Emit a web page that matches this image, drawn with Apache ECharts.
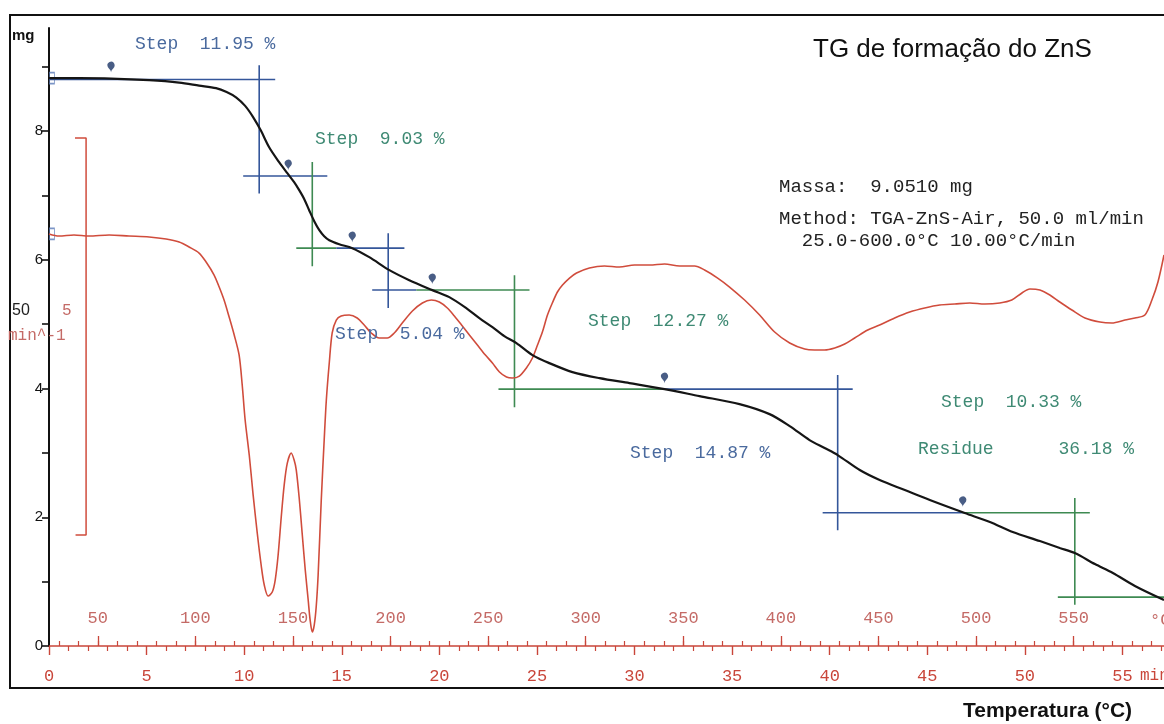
<!DOCTYPE html>
<html>
<head>
<meta charset="utf-8">
<script src="https://cdn.jsdelivr.net/npm/echarts@6/dist/echarts.min.js"></script>
<style>html,body{margin:0;padding:0;background:#fff}#c{width:1164px;height:724px}</style>
</head>
<body>
<div id="c"></div>
<script>
// ---- TG curve (time in min, mass in mg)
const tgTime = [0,1.54,3.18,5.13,6.67,7.69,8.56,9.1,9.6,10.05,10.45,10.85,11.28,11.79,12.21,12.56,12.82,13.08,13.33,13.59,13.85,14.10,14.36,14.87,15.54,16.41,17.44,18.46,19.64,20.51,21.38,22.05,22.72,23.33,23.95,24.77,25.64,26.82,28.21,29.74,31.54,33.33,35.38,36.92,37.95,38.97,39.74,40.41,41.54,42.56,43.85,45.13,46.92,48.21,49.38,50.77,51.79,52.56,53.59,54.51,55.64,57.13];
const tgMass = [8.82,8.82,8.815,8.79,8.752,8.705,8.665,8.605,8.520,8.390,8.220,8.010,7.748,7.516,7.345,7.205,7.081,6.941,6.770,6.599,6.460,6.366,6.304,6.242,6.180,6.040,5.839,5.683,5.528,5.419,5.248,5.093,4.953,4.814,4.705,4.519,4.394,4.255,4.161,4.084,3.991,3.882,3.758,3.602,3.416,3.199,3.075,2.966,2.733,2.578,2.422,2.267,2.065,1.925,1.770,1.630,1.522,1.444,1.273,1.134,0.932,0.714];

// ---- DTG curve (time in min, rate in %/min, 0 = baseline)
const dtgTime = [0,0.51,1.28,2.05,3.08,4.10,5.13,6.00,6.67,7.18,7.69,8.05,8.46,8.72,8.97,9.23,9.49,9.74,9.90,10.05,10.26,10.46,10.67,10.87,11.03,11.23,11.44,11.59,11.74,11.90,12.05,12.21,12.41,12.56,12.67,12.82,12.97,13.13,13.28,13.38,13.49,13.59,13.69,13.79,13.95,14.10,14.21,14.36,14.51,14.72,14.97,15.38,15.79,16.15,16.51,16.92,17.33,17.69,18.10,18.62,19.13,19.59,20.00,20.41,20.77,21.18,21.54,21.95,22.36,22.72,23.08,23.44,23.74,24.10,24.46,24.77,25.03,25.28,25.54,25.79,26.05,26.31,26.67,27.03,27.69,28.46,29.23,30.00,30.77,31.54,32.31,33.08,33.59,34.26,34.87,35.64,36.41,37.18,37.95,38.72,39.23,39.74,40.26,40.77,41.28,41.95,42.56,43.33,44.10,44.87,45.64,46.41,47.18,47.95,48.72,49.33,49.85,50.26,50.77,51.28,51.79,52.41,53.08,53.85,54.46,55.13,55.64,56.15,56.51,56.82,57.13];
const dtgRate = [0.013,-0.013,0,-0.013,0,-0.013,-0.025,-0.050,-0.088,-0.151,-0.227,-0.340,-0.504,-0.655,-0.819,-1.033,-1.259,-1.511,-1.889,-2.330,-2.771,-3.275,-3.753,-4.156,-4.408,-4.547,-4.496,-4.345,-4.030,-3.552,-3.149,-2.872,-2.746,-2.834,-2.960,-3.312,-3.753,-4.219,-4.597,-4.849,-5.000,-4.912,-4.685,-4.282,-3.338,-2.582,-2.078,-1.612,-1.234,-1.071,-1.020,-1.008,-1.045,-1.134,-1.234,-1.297,-1.297,-1.234,-1.108,-0.957,-0.856,-0.819,-0.844,-0.919,-1.020,-1.146,-1.259,-1.385,-1.511,-1.612,-1.725,-1.788,-1.801,-1.776,-1.675,-1.549,-1.385,-1.222,-1.008,-0.856,-0.718,-0.630,-0.542,-0.479,-0.416,-0.390,-0.403,-0.378,-0.378,-0.365,-0.390,-0.390,-0.441,-0.542,-0.655,-0.819,-1.008,-1.222,-1.360,-1.436,-1.448,-1.448,-1.423,-1.373,-1.297,-1.196,-1.134,-1.045,-0.970,-0.919,-0.882,-0.869,-0.856,-0.869,-0.856,-0.819,-0.730,-0.680,-0.693,-0.756,-0.844,-0.945,-1.045,-1.096,-1.108,-1.071,-1.045,-1.008,-0.819,-0.592,-0.252];

// ---- Step construction lines [t1, mg1, t2, mg2, kind] (B = onset, G = endset)
const stepSegments = [
  [0,8.80,11.59,8.80,'B'],[10.77,9.02,10.77,7.03,'B'],[9.95,7.30,14.26,7.30,'B'],
  [13.49,7.52,13.49,5.90,'G'],[12.67,6.18,14.72,6.18,'G'],[14.72,6.18,18.21,6.18,'B'],
  [17.38,6.41,17.38,5.25,'B'],[16.56,5.53,18.82,5.53,'B'],[18.82,5.53,24.62,5.53,'G'],
  [23.85,5.76,23.85,3.71,'G'],[23.03,3.99,31.54,3.99,'G'],[31.54,3.99,41.18,3.99,'B'],
  [40.41,4.21,40.41,1.80,'B'],[39.64,2.07,46.82,2.07,'B'],[46.82,2.07,53.33,2.07,'G'],
  [52.56,2.30,52.56,0.64,'G'],[51.69,0.76,57.13,0.76,'G']
];
const pinTime = [3.18,12.26,15.54,19.64,31.54,46.82];
const pinMass = [8.82,7.30,6.18,5.53,3.99,2.07];

// DTG scale bar (5 %/min)
const scaleBar = [[1.33,1.222],[1.90,1.222],[1.90,-3.778],[1.36,-3.778]];

// ---- Axis ticks / labels
const timeLabels = [0,5,10,15,20,25,30,35,40,45,50,55];
const tempLabels = [50,100,150,200,250,300,350,400,450,500,550];
const tempMinor = []; for (let v = 30; v <= 590; v += 10) tempMinor.push(v);
const massTicks = [0,1,2,3,4,5,6,7,8,9];
const massLabels = [0,2,4,6,8];

// ---- Annotation texts
const stepTexts = ['Step  11.95 %','Step  9.03 %','Step  5.04 %','Step  12.27 %','Step  14.87 %','Step  10.33 %','Residue      36.18 %'];
const infoTexts = ['Massa:  9.0510 mg','Method: TGA-ZnS-Air, 50.0 ml/min','  25.0-600.0°C 10.00°C/min'];

const BLUE_LINE = '#34569a', GREEN_LINE = '#3e8a52';
const BLUE_TXT = '#4a6a9e', GREEN_TXT = '#3f8a74';
const RED = '#d04c3c', AXRED = '#c9463a', LBLRED = '#c46a66';
const MONO = 'Liberation Mono';

const series = [];
series.push({type:'line', name:'TG', data: tgTime.map((t,i)=>[t,tgMass[i]]), smooth:0.3, symbol:'none',
  lineStyle:{color:'#151515', width:2.2}, z:5});
series.push({type:'line', name:'DTG', yAxisIndex:1, data: dtgTime.map((t,i)=>[t,dtgRate[i]]), smooth:0.3, symbol:'none',
  lineStyle:{color:RED, width:1.6}, z:4});
stepSegments.forEach(s => series.push({type:'line', data:[[s[0],s[1]],[s[2],s[3]]], symbol:'none', silent:true,
  lineStyle:{color: s[4]==='B'?BLUE_LINE:GREEN_LINE, width:1.6}, z:3}));
series.push({type:'scatter', data: pinTime.map((t,i)=>[t,pinMass[i]]), symbol:'pin', symbolSize:12, symbolOffset:[0,-6],
  itemStyle:{color:'#1b3566'}, z:6});
series.push({type:'line', yAxisIndex:1, data: scaleBar, symbol:'none', lineStyle:{color:RED, width:1.5}, z:3});
series.push({type:'scatter', data:[[0.15,8.82]], symbol:'rect', symbolSize:[5,11], itemStyle:{color:'transparent', borderColor:'#5a7ab8', borderWidth:1.2}});
series.push({type:'scatter', yAxisIndex:1, data:[[0.15,0.013]], symbol:'rect', symbolSize:[5,11], itemStyle:{color:'transparent', borderColor:'#5a7ab8', borderWidth:1.2}});

function txt(x, y, text, font, fill, align) {
  return {type:'text', x:x, y:y, z:100, style:{text:text, font:font, fill:fill, textAlign:align||'left', textVerticalAlign:'middle', verticalAlign:'middle'}};
}
const stepPos = [[135,44,BLUE_TXT],[315,139,GREEN_TXT],[335,334,BLUE_TXT],[588,321,GREEN_TXT],[630,453,BLUE_TXT],[941,402,GREEN_TXT],[918,449,GREEN_TXT]];
const graphics = [
  {type:'rect', shape:{x:10,y:15,width:1180,height:673}, style:{fill:'none', stroke:'#111', lineWidth:2}, z:0, silent:true},
  txt(12,36,'mg','bold 15px "Liberation Sans", Arial','#111'),
  txt(813,50,'TG de formação do ZnS','26px "Liberation Sans", Arial','#111'),
  txt(963,711,'Temperatura (°C)','bold 21px "Liberation Sans", Arial','#111'),
  txt(12,311,'50','16px "Liberation Sans", Arial','#222'),
  txt(62,311,'5','16px '+MONO,LBLRED),
  txt(8,336,'min^-1','16px '+MONO,LBLRED),
  txt(1140,676,'min','16px '+MONO,AXRED),
  txt(1150,620,'°C','17px '+MONO,LBLRED)
];
stepTexts.forEach((s,i)=>graphics.push(txt(stepPos[i][0], stepPos[i][1], s, '18px '+MONO, stepPos[i][2])));
graphics.push(txt(779,187,infoTexts[0],'19px '+MONO,'#222'));
graphics.push(txt(779,219,infoTexts[1],'19px '+MONO,'#222'));
graphics.push(txt(779,241,infoTexts[2],'19px '+MONO,'#222'));

const chart = echarts.init(document.getElementById('c'), null, {renderer:'canvas'});
chart.setOption({
  backgroundColor:'#fff',
  animation:false,
  grid:{left:49, right:0, top:28, bottom:78, containLabel:false},
  xAxis:[
    {type:'value', min:0, max:57.13, interval:5, position:'bottom',
      axisLine:{show:true, onZero:false, lineStyle:{color:AXRED, width:1.6}},
      axisTick:{show:true, length:9, lineStyle:{color:AXRED, width:1.4}, customValues: timeLabels},
      minorTick:{show:true, splitNumber:5, length:5, lineStyle:{color:AXRED, width:1.2}},
      axisLabel:{show:true, customValues: timeLabels, margin:22, color:AXRED, fontFamily:MONO, fontSize:17},
      splitLine:{show:false}},
    {type:'value', min:25, max:596.3, position:'bottom',
      axisLine:{show:false, onZero:false},
      axisTick:{show:true, inside:true, length:5, customValues: tempMinor, lineStyle:{color:AXRED, width:1.2}},
      axisLabel:{show:true, inside:true, customValues: tempLabels, margin:19, color:LBLRED, fontFamily:MONO, fontSize:17},
      splitLine:{show:false}},
    {type:'value', min:25, max:596.3, position:'bottom',
      axisLine:{show:false, onZero:false},
      axisTick:{show:true, inside:true, length:10, customValues: tempLabels, lineStyle:{color:AXRED, width:1.3}},
      axisLabel:{show:false}, splitLine:{show:false}}
  ],
  yAxis:[
    {type:'value', min:0, max:9.6, position:'left',
      axisLine:{show:true, onZero:false, lineStyle:{color:'#111', width:2}},
      axisTick:{show:true, length:7, customValues: massTicks, lineStyle:{color:'#111', width:1.6}},
      axisLabel:{show:true, customValues: massLabels, margin:6, color:'#111', fontFamily:'Liberation Sans, Arial', fontSize:15},
      splitLine:{show:false}},
    {type:'value', min:-5.176, max:2.607, show:false, axisLine:{onZero:false}, splitLine:{show:false}}
  ],
  series: series,
  graphic: graphics
});
</script>
</body>
</html>
